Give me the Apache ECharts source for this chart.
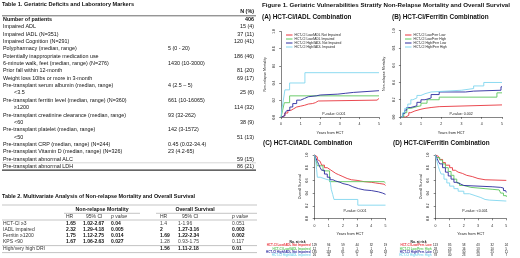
<!DOCTYPE html>
<html>
<head>
<meta charset="utf-8">
<script src="https://cdn.jsdelivr.net/npm/echarts@6/dist/echarts.min.js"></script>
<style>
  html, body { margin: 0; padding: 0; background: #fff; }
  #root { width: 520px; height: 258px; }
</style>
</head>
<body>
<div id="root"></div>
<script>
// ---- Table 1 ----
const t1Labels = ['Number of patients', 'Impaired ADL', 'Impaired IADL (N=351)', 'Impaired Cognition (N=291)',
  'Polypharmacy (median, range)', 'Potentially inappropriate medication use',
  '6-minute walk, feet (median, range) (N=276)', 'Prior fall within 12-month',
  'Weight loss 10lbs or more in 3-month', 'Pre-transplant serum albumin (median, range)', '<3.5',
  'Pre-transplant ferritin level (median, range) (N=360)', '≥1200',
  'Pre-transplant creatinine clearance (median, range)', '<60',
  'Pre-transplant platelet (median, range)', '<50',
  'Pre-transplant CRP (median, range) (N=244)', 'Pre-transplant Vitamin D (median, range) (N=326)',
  'Pre-transplant abnormal ALC', 'Pre-transplant abnormal LDH']
const t1Median = ['', '', '', '', '5 (0 - 20)', '', '1430 (10-3000)', '', '', '4 (2.5 – 5)', '',
  '661 (10-16065)', '', '93 (32-262)', '', '142 (3-1572)', '', '0.45 (0.02-34.4)', '23 (4.2-65)', '', '']
const t1Count = ['406', '15 (4)', '37 (11)', '120 (41)', '', '186 (46)', '', '81 (20)', '69 (17)', '',
  '25 (6)', '', '114 (32)', '', '38 (9)', '', '51 (13)', '', '', '59 (15)', '86 (21)']

// ---- Table 2 ----
const t2Labels = ['HCT-CI ≥3', 'IADL impaired', 'Ferritin ≥1200', 'KPS <90', 'High/very high DRI']
const nrmHR = ['1.65', '2.32', '1.75', '1.67', '']
const nrmCI = ['1.02-2.67', '1.29-4.18', '1.12-2.75', '1.06-2.63', '']
const nrmP = ['0.04', '0.005', '0.014', '0.027', '']
const osHR = ['1.4', '2', '1.69', '1.28', '1.56']
const osCI = ['1-1.96', '1.27-3.16', '1.22-2.34', '0.93-1.75', '1.11-2.18']
const osP = ['0.051', '0.003', '0.002', '0.117', '0.01']
const osSig = [false, true, true, false, true]

// ---- Figure ----
const iadlGroups = ['HCT-CI Low/IADL Not Impaired', 'HCT-CI Low/IADL Impaired', 'HCT-CI High/IADL Not Impaired', 'HCT-CI High/IADL Impaired']
const ferrGroups = ['HCT-CI Low/Ferr Low', 'HCT-CI Low/Ferr High', 'HCT-CI High/Ferr Low', 'HCT-CI High/Ferr High']
const ferrRiskGroups = ['HCT-CI Low/Ferr. Low', 'HCT-CI Low/Ferr. High', 'HCT-CI High/Ferr. Low', 'HCT-CI High/Ferr. High']
const yearTicks = [0, 1, 2, 3, 4, 5]
const probTicks = ['0.0', '0.2', '0.4', '0.6', '0.8', '1.0']
const pValues = ['P-value: 0.001', 'P-value: 0.002', 'P-value: 0.001', 'P-value: <0.001']

// (A) non-relapse mortality, HCT-CI / IADL
const nrmIadlLowNot = [[0, 0], [0.1, 0.02], [0.2, 0.05], [0.35, 0.08], [0.5, 0.1], [0.65, 0.12], [0.8, 0.13], [1.0, 0.14], [1.2, 0.155], [1.4, 0.16], [1.6, 0.17], [1.75, 0.19], [1.9, 0.2], [4.9, 0.2], [4.93, 0.22], [5, 0.22]]
const nrmIadlLowImp = [[0, 0], [0.08, 0.08], [0.17, 0.17], [0.44, 0.25], [5, 0.25]]
const nrmIadlHighNot = [[0, 0], [0.1, 0.02], [0.2, 0.05], [0.3, 0.08], [0.45, 0.12], [0.6, 0.16], [0.8, 0.2], [1.0, 0.22], [1.2, 0.24], [1.4, 0.25], [1.8, 0.26], [2.0, 0.27], [2.9, 0.28], [3.3, 0.29], [3.7, 0.31], [5, 0.31]]
const nrmIadlHighImp = [[0, 0], [0.05, 0.1], [0.12, 0.2], [0.2, 0.32], [0.44, 0.4], [1.22, 0.52], [5, 0.52]]

// (B) non-relapse mortality, HCT-CI / ferritin
const nrmFerrLowLow = [[0, 0], [0.25, 0.02], [0.4, 0.05], [0.5, 0.07], [0.7, 0.09], [1.0, 0.1], [1.2, 0.11], [1.5, 0.12], [1.9, 0.14], [5, 0.14]]
const nrmFerrLowHigh = [[0, 0], [0.15, 0.05], [0.3, 0.1], [0.5, 0.12], [0.8, 0.13], [1.0, 0.16], [1.3, 0.2], [1.9, 0.23], [4.75, 0.28], [5, 0.28]]
const nrmFerrHighLow = [[0, 0], [0.1, 0.04], [0.2, 0.08], [0.3, 0.11], [0.5, 0.13], [0.8, 0.17], [1.0, 0.2], [1.2, 0.22], [1.5, 0.26], [1.9, 0.29], [3.2, 0.3], [3.6, 0.31], [4.95, 0.35], [5, 0.35]]
const nrmFerrHighHigh = [[0, 0], [0.1, 0.05], [0.2, 0.1], [0.35, 0.15], [0.5, 0.2], [0.6, 0.22], [0.8, 0.25], [1.0, 0.27], [1.2, 0.29], [1.5, 0.31], [3.0, 0.33], [3.6, 0.36], [4.1, 0.4], [5, 0.4]]

// (C) overall survival, HCT-CI / IADL
const osIadlLowNot = [[0, 1], [0.1, 0.97], [0.2, 0.93], [0.3, 0.9], [0.4, 0.87], [0.5, 0.84], [0.7, 0.8], [0.9, 0.77], [1.1, 0.74], [1.3, 0.71], [1.5, 0.69], [1.7, 0.66], [2.0, 0.63], [2.3, 0.61], [2.6, 0.6], [3.0, 0.58], [3.5, 0.57], [4.0, 0.56], [4.3, 0.55], [4.6, 0.54], [4.9, 0.52], [5, 0.52]]
const osIadlLowImp = [[0, 1], [0.1, 0.92], [0.2, 0.83], [0.6, 0.75], [1.06, 0.58], [4.9, 0.56], [5, 0.56]]
const osIadlHighNot = [[0, 1], [0.1, 0.95], [0.2, 0.9], [0.3, 0.85], [0.4, 0.8], [0.5, 0.76], [0.7, 0.7], [0.9, 0.65], [1.1, 0.61], [1.3, 0.59], [1.5, 0.57], [1.8, 0.55], [2.0, 0.53], [2.4, 0.5], [2.7, 0.47], [3.1, 0.45], [3.5, 0.44], [4.0, 0.42], [4.5, 0.4], [4.8, 0.38], [5, 0.37]]
const osIadlHighImp = [[0, 1], [0.05, 0.96], [0.1, 0.88], [0.15, 0.77], [0.2, 0.65], [0.4, 0.62], [0.8, 0.6], [1.1, 0.57], [1.18, 0.46], [1.28, 0.38], [1.37, 0.3], [3.05, 0.21], [5, 0.21]]

// (D) overall survival, HCT-CI / ferritin
const osFerrLowLow = [[0, 1], [0.1, 0.98], [0.2, 0.96], [0.3, 0.93], [0.5, 0.88], [0.7, 0.84], [1.0, 0.8], [1.2, 0.76], [1.4, 0.73], [1.6, 0.71], [1.9, 0.68], [2.2, 0.66], [2.6, 0.63], [3.0, 0.61], [3.5, 0.6], [5, 0.6]]
const osFerrLowHigh = [[0, 1], [0.1, 0.96], [0.3, 0.92], [0.5, 0.86], [0.7, 0.8], [0.9, 0.74], [1.1, 0.68], [1.3, 0.62], [1.5, 0.56], [1.7, 0.52], [2.0, 0.49], [2.5, 0.48], [3.0, 0.47], [3.5, 0.46], [4.0, 0.45], [4.5, 0.42], [4.6, 0.4], [4.8, 0.36], [5, 0.34]]
const osFerrHighLow = [[0, 1], [0.1, 0.95], [0.2, 0.9], [0.3, 0.86], [0.5, 0.8], [0.7, 0.73], [0.9, 0.67], [1.1, 0.62], [1.3, 0.57], [1.5, 0.54], [1.8, 0.52], [2.0, 0.51], [3.0, 0.5], [4.0, 0.49], [4.6, 0.48], [4.8, 0.44], [4.95, 0.41], [5, 0.41]]
const osFerrHighHigh = [[0, 1], [0.05, 0.95], [0.1, 0.9], [0.2, 0.82], [0.3, 0.75], [0.4, 0.7], [0.6, 0.62], [0.8, 0.56], [1.0, 0.51], [1.3, 0.47], [1.6, 0.43], [2.0, 0.39], [2.4, 0.36], [2.8, 0.33], [3.2, 0.3], [3.5, 0.29], [3.8, 0.275], [5, 0.275]]

// number at risk
const riskIadlLowNot = [129, 94, 59, 44, 32, 19]
const riskIadlLowImp = [12, 7, 3, 1, 1, 1]
const riskIadlHighNot = [185, 118, 81, 62, 34, 18]
const riskIadlHighImp = [26, 11, 5, 5, 2, 2]
const riskFerrLowLow = [113, 85, 58, 43, 32, 24]
const riskFerrLowHigh = [28, 25, 16, 13, 10, 5]
const riskFerrHighLow = [131, 87, 50, 36, 25, 11]
const riskFerrHighHigh = [78, 40, 23, 14, 8, 7]

;(function () {
  const FONT = '"Liberation Sans", Arial, sans-serif'
  const COLORS = ['#e8353d', '#5cc65c', '#2a2a9e', '#80d6ee']
  const AXIS = '#333'

  const text = (x, y, str, opt = {}) => ({
    type: 'text', x, y, silent: true,
    style: {
      text: str,
      fontSize: opt.size || 5.4,
      fontWeight: opt.bold ? 'bold' : 'normal',
      fontStyle: opt.italic ? 'italic' : 'normal',
      fontFamily: FONT,
      fill: opt.color || '#111',
      align: opt.align || 'left',
      verticalAlign: 'middle'
    }
  })
  const rule = (x1, x2, y, w, color) => ({
    type: 'line', silent: true,
    shape: { x1, y1: y, x2, y2: y },
    style: { stroke: color || '#555', lineWidth: w || 0.6 }
  })

  const graphic = []

  // Table 1
  graphic.push(text(2, 4.5, 'Table 1. Geriatric Deficits and Laboratory Markers', { bold: true, size: 5.6 }))
  graphic.push(text(254, 12, 'N (%)', { bold: true, align: 'right' }))
  graphic.push(rule(2, 256, 15.8, 0.8, '#444'))
  const t1Top = 19.5, t1Step = 7.35
  t1Labels.forEach((label, i) => {
    const y = t1Top + i * t1Step
    const indent = /^[<≥]/.test(label) ? 14 : 3
    graphic.push(text(indent, y, label, { bold: i === 0 }))
    if (t1Median[i]) graphic.push(text(168, y, t1Median[i]))
    if (t1Count[i]) graphic.push(text(254, y, t1Count[i], { align: 'right', bold: i === 0 }))
  })
  graphic.push(rule(2, 256, t1Top + (t1Labels.length - 1.5) * t1Step, 0.4, '#999'))
  graphic.push(rule(2, 256, t1Top + (t1Labels.length - 0.5) * t1Step, 1.2, '#333'))

  // Table 2
  graphic.push(text(2, 196, 'Table 2. Multivariate Analysis of Non-relapse Mortality and Overall Survival', { bold: true, size: 5.45 }))
  graphic.push(rule(2, 257, 205, 0.5, '#888'))
  graphic.push(text(102, 210, 'Non-relapse Mortality', { bold: true, align: 'center', size: 5.2 }))
  graphic.push(text(195, 210, 'Overall Survival', { bold: true, align: 'center', size: 5.2 }))
  graphic.push(rule(64, 140, 213.3, 0.5, '#888'))
  graphic.push(rule(156, 257, 213.3, 0.5, '#888'))
  const hdrY = 216.8
  ;[[66, 'HR'], [86, '95% CI'], [111, 'p value'], [160, 'HR'], [182, '95% CI'], [232, 'p value']].forEach(([x, s]) => {
    graphic.push(text(x, hdrY, s, { size: 5, italic: s === 'p value', color: '#333' }))
  })
  graphic.push(rule(2, 257, 220, 0.5, '#888'))
  const t2Top = 223.5, t2Step = 6.2
  t2Labels.forEach((label, i) => {
    const y = t2Top + i * t2Step + (i === 4 ? 0.8 : 0)
    graphic.push(text(3, y, label, { size: 5, color: '#333' }))
    if (nrmHR[i]) {
      graphic.push(text(66, y, nrmHR[i], { size: 5, bold: true }))
      graphic.push(text(83, y, nrmCI[i], { size: 5, bold: true }))
      graphic.push(text(111, y, nrmP[i], { size: 5, bold: true }))
    }
    const sig = osSig[i]
    graphic.push(text(160, y, osHR[i], { size: 5, bold: sig, color: sig ? '#111' : '#444' }))
    graphic.push(text(178, y, osCI[i], { size: 5, bold: sig, color: sig ? '#111' : '#444' }))
    graphic.push(text(232, y, osP[i], { size: 5, bold: sig, color: sig ? '#111' : '#444' }))
  })
  graphic.push(rule(2, 257, t2Top + 3.5 * t2Step + 0.4, 0.5, '#888'))
  graphic.push(rule(2, 257, t2Top + 4.5 * t2Step + 1.2, 0.5, '#888'))

  // Figure titles
  graphic.push(text(262, 5, 'Figure 1. Geriatric Vulnerabilities Stratify Non-Relapse Mortality and Overall Survival', { bold: true, size: 6.2 }))
  graphic.push(text(262, 17, '(A) HCT-CI/IADL Combination', { bold: true, size: 6.4 }))
  graphic.push(text(392, 17, '(B) HCT-CI/Ferritin Combination', { bold: true, size: 6.4 }))
  graphic.push(text(263, 143.5, '(C) HCT-CI/IADL Combination', { bold: true, size: 6.4 }))
  graphic.push(text(393, 143.5, '(D) HCT-CI/Ferritin Combination', { bold: true, size: 6.4 }))

  // legends for A and B
  const legendBlock = (x, y, names) => {
    names.forEach((n, i) => {
      const yy = y + i * 4
      graphic.push({ type: 'line', silent: true, shape: { x1: x, y1: yy, x2: x + 6.5, y2: yy }, style: { stroke: COLORS[i], lineWidth: 1 } })
      graphic.push(text(x + 8.5, yy, n, { size: 3.3, color: '#222' }))
    })
  }
  legendBlock(286, 35, iadlGroups)
  legendBlock(405, 35, ferrGroups)

  const grids = [
    { left: 281, top: 31.5, width: 98, height: 85.8 },
    { left: 400.7, top: 30.7, width: 101.3, height: 86.3 },
    { left: 314.5, top: 155, width: 71, height: 63.5 },
    { left: 435.5, top: 155, width: 70.8, height: 63.5 }
  ]
  const yNames = ['Non-relapse Mortality', 'Non-relapse Mortality', 'Overall Survival', 'Overall Survival']
  const yNameGap = [10.5, 11, 9, 9]

  const xAxis = grids.map((g, i) => ({
    type: 'value', gridIndex: i, min: 0, max: 5, interval: 1, offset: 3,
    name: 'Years from HCT', nameLocation: 'middle', nameGap: 10.5,
    nameTextStyle: { fontSize: 3.8, fontFamily: FONT, color: '#222' },
    axisLine: { show: true, lineStyle: { color: AXIS, width: 0.6 } },
    axisTick: { show: true, length: 1.8, lineStyle: { color: AXIS, width: 0.6 } },
    axisLabel: { fontSize: 3.5, margin: 2.2, color: '#222', fontFamily: FONT, formatter: v => yearTicks.includes(v) ? String(v) : '' },
    splitLine: { show: false }
  }))
  const yAxis = grids.map((g, i) => ({
    type: 'value', gridIndex: i, min: 0, max: 1, interval: 0.2, offset: 3.5,
    name: yNames[i], nameLocation: 'middle', nameGap: yNameGap[i], nameRotate: 90,
    nameTextStyle: { fontSize: 3.6, fontFamily: FONT, color: '#222' },
    axisLine: { show: true, lineStyle: { color: AXIS, width: 0.6 } },
    axisTick: { show: true, length: 1.8, lineStyle: { color: AXIS, width: 0.6 } },
    axisLabel: { fontSize: 3.2, rotate: 90, margin: 2, color: '#222', fontFamily: FONT, formatter: v => probTicks[Math.round(v * 5)] },
    splitLine: { show: false }
  }))

  const panels = [
    { names: iadlGroups, data: [nrmIadlLowNot, nrmIadlLowImp, nrmIadlHighNot, nrmIadlHighImp] },
    { names: ferrGroups, data: [nrmFerrLowLow, nrmFerrLowHigh, nrmFerrHighLow, nrmFerrHighHigh] },
    { names: iadlGroups, data: [osIadlLowNot, osIadlLowImp, osIadlHighNot, osIadlHighImp] },
    { names: ferrRiskGroups, data: [osFerrLowLow, osFerrLowHigh, osFerrHighLow, osFerrHighHigh] }
  ]
  const series = []
  panels.forEach((p, gi) => {
    p.data.forEach((d, si) => {
      series.push({
        type: 'line', name: p.names[si], xAxisIndex: gi, yAxisIndex: gi,
        step: 'end', showSymbol: false, data: d, silent: true,
        lineStyle: { color: COLORS[si], width: 0.9 }, itemStyle: { color: COLORS[si] }
      })
    })
  })

  const chart = echarts.init(document.getElementById('root'))
  chart.setOption({
    animation: false,
    backgroundColor: '#fff',
    textStyle: { fontFamily: FONT },
    grid: grids,
    xAxis,
    yAxis,
    series
  })

  // p-values and number-at-risk tables, placed through the axes
  const pPos = [[2.7, 0.04], [2.98, 0.04], [2.85, 0.12], [2.79, 0.12]]
  pPos.forEach((pt, i) => {
    const [px, py] = chart.convertToPixel({ gridIndex: i }, pt)
    graphic.push(text(px, py, pValues[i], { size: 3.6, align: 'center', color: '#222' }))
  })

  const riskTables = [
    { grid: 2, names: iadlGroups, rows: [riskIadlLowNot, riskIadlLowImp, riskIadlHighNot, riskIadlHighImp], labelX: 310.5 },
    { grid: 3, names: ferrRiskGroups, rows: [riskFerrLowLow, riskFerrLowHigh, riskFerrHighLow, riskFerrHighHigh], labelX: 431.5 }
  ]
  riskTables.forEach(t => {
    const headY = 242
    const headX = t.labelX - 13
    graphic.push(text(headX, headY, 'No. at risk', { size: 3.3, bold: true, align: 'center', color: '#111' }))
    t.rows.forEach((row, r) => {
      const y = headY + 3.6 + r * 3.3
      graphic.push(text(t.labelX, y, t.names[r], { size: 3, bold: true, align: 'right', color: COLORS[r] }))
      row.forEach((n, k) => {
        const px = chart.convertToPixel({ xAxisIndex: t.grid }, yearTicks[k])
        graphic.push(text(px, y, String(n), { size: 3, align: 'center', color: '#111' }))
      })
    })
  })

  chart.setOption({ graphic })
})()
</script>
</body>
</html>
